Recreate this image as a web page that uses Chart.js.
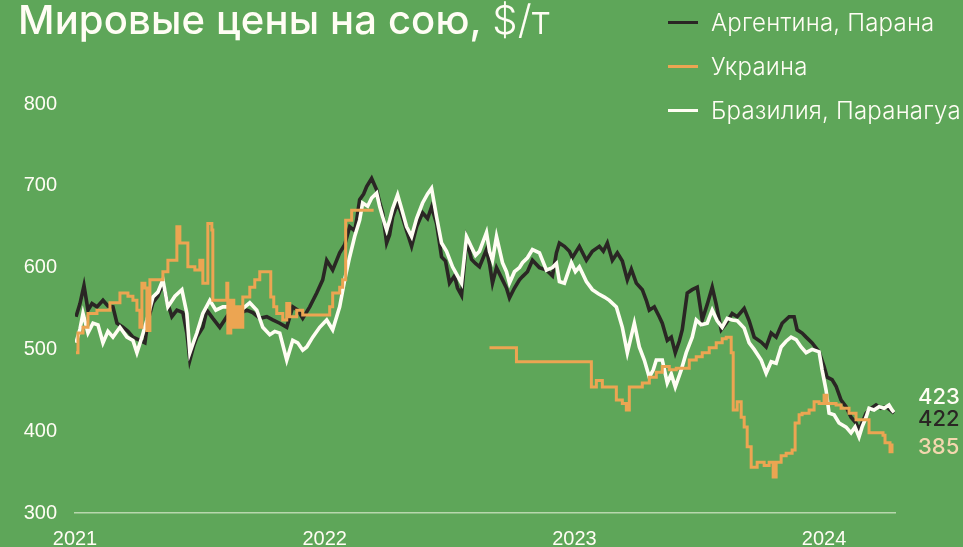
<!DOCTYPE html>
<html>
<head>
<meta charset="utf-8">
<script src="https://cdn.jsdelivr.net/npm/chart.js@4.4.1/dist/chart.umd.min.js"></script>
<style>
  html, body { margin: 0; padding: 0; background: #5ea659; }
  .wrap { position: relative; width: 963px; height: 547px; overflow: hidden; }
  .title {
    position: absolute; left: 18px; top: 0px; margin: 0;
    font-family: Inter, "Noto Sans", sans-serif; font-weight: 500; font-size: 40px;
    line-height: 1; color: #fffdf4; white-space: nowrap; letter-spacing: 0.15px;
  }
  .title .unit { font-weight: 300; }
  .legend { position: absolute; left: 668px; top: 0; }
  .legend .row {
    position: absolute; left: 0; height: 24px; display: flex; align-items: center;
    font-family: Inter, "Noto Sans", sans-serif; font-weight: 300; font-size: 24px;
    color: #fffdf4; white-space: nowrap; letter-spacing: 0.2px;
  }
  .legend .swatch { width: 30px; height: 3px; margin-right: 13px; }
</style>
</head>
<body>
<div class="wrap">
  <canvas id="soyChart"></canvas>
  <div class="title">Мировые цены на сою, <span class="unit">$/т</span></div>
  <div class="legend" id="legend"></div>
</div>
<script>
// x values are years since startYear (fractional), y values are $/t
const startYear = 2021;
const yearTicks = [2021, 2022, 2023, 2024];
const priceTicks = [300, 400, 500, 600, 700, 800];
const seriesNames = ["Аргентина, Парана", "Украина", "Бразилия, Паранагуа"];
const endLabels = ["423", "422", "385"];

const argentinaX = [0.004,0.020,0.036,0.052,0.068,0.088,0.112,0.132,0.152,0.168,0.192,0.212,0.232,0.260,0.280,0.292,0.312,0.332,0.352,0.368,0.388,0.408,0.432,0.448,0.460,0.476,0.488,0.512,0.528,0.552,0.580,0.608,0.632,0.660,0.688,0.712,0.740,0.768,0.792,0.820,0.848,0.872,0.892,0.912,0.940,0.968,0.992,1.008,1.032,1.060,1.080,1.100,1.120,1.128,1.140,1.156,1.168,1.188,1.208,1.220,1.232,1.248,1.260,1.272,1.292,1.308,1.328,1.348,1.368,1.392,1.412,1.428,1.448,1.468,1.484,1.500,1.520,1.532,1.548,1.568,1.588,1.604,1.620,1.648,1.660,1.672,1.688,1.712,1.728,1.740,1.760,1.780,1.792,1.812,1.832,1.860,1.888,1.912,1.928,1.940,1.960,1.980,1.992,2.020,2.048,2.072,2.100,2.116,2.132,2.152,2.172,2.192,2.212,2.228,2.248,2.272,2.288,2.300,2.320,2.340,2.352,2.372,2.388,2.404,2.420,2.432,2.452,2.472,2.492,2.512,2.532,2.552,2.568,2.588,2.608,2.632,2.652,2.680,2.700,2.720,2.748,2.768,2.788,2.808,2.832,2.860,2.880,2.892,2.912,2.928,2.952,2.980,3.000,3.012,3.032,3.048,3.068,3.088,3.108,3.128,3.140,3.152,3.168,3.188,3.208,3.228,3.248,3.264,3.280];
const argentinaY = [540,556,578,548,556,552,560,553,552,532,527,522,515,511,508,535,557,565,581,560,540,548,545,520,487,505,515,527,548,538,527,540,530,544,548,545,538,540,536,532,527,552,548,538,552,569,585,609,597,618,628,650,645,658,683,690,699,709,695,680,667,630,640,662,679,665,645,626,650,667,660,674,654,613,608,581,590,575,566,634,610,605,601,622,605,581,600,585,575,563,575,585,589,595,609,600,597,590,618,630,626,620,612,626,609,620,626,620,630,609,618,608,585,598,581,573,560,548,552,540,532,511,515,496,510,524,569,573,576,536,555,576,555,524,532,544,540,550,535,515,509,503,520,515,532,540,540,524,520,515,508,497,479,466,463,455,438,430,417,410,401,410,422,428,432,428,430,426,422];

const brazilX = [0.004,0.020,0.032,0.052,0.072,0.092,0.112,0.132,0.152,0.180,0.208,0.232,0.248,0.268,0.288,0.312,0.332,0.352,0.372,0.400,0.428,0.448,0.460,0.476,0.488,0.512,0.540,0.564,0.592,0.620,0.648,0.672,0.700,0.728,0.752,0.780,0.800,0.820,0.848,0.872,0.892,0.912,0.928,0.952,0.980,1.008,1.032,1.060,1.080,1.100,1.120,1.140,1.152,1.172,1.188,1.208,1.220,1.232,1.248,1.260,1.272,1.292,1.308,1.328,1.348,1.368,1.392,1.412,1.428,1.448,1.468,1.488,1.512,1.532,1.548,1.568,1.588,1.604,1.620,1.648,1.660,1.672,1.688,1.712,1.728,1.740,1.760,1.780,1.792,1.812,1.832,1.860,1.888,1.912,1.928,1.940,1.960,1.988,2.004,2.020,2.048,2.072,2.096,2.120,2.140,2.168,2.192,2.212,2.240,2.260,2.280,2.300,2.316,2.328,2.352,2.372,2.388,2.404,2.428,2.448,2.472,2.488,2.508,2.532,2.552,2.572,2.592,2.612,2.632,2.652,2.680,2.700,2.720,2.748,2.768,2.788,2.808,2.828,2.848,2.868,2.888,2.908,2.928,2.952,2.980,2.992,3.008,3.020,3.040,3.060,3.088,3.108,3.124,3.140,3.152,3.168,3.180,3.200,3.220,3.240,3.260,3.272,3.280];
const brazilY = [508,525,544,520,532,530,508,522,515,527,515,511,496,515,536,564,570,585,552,565,573,544,496,510,520,544,560,548,552,552,540,550,557,548,527,518,522,520,487,511,508,499,503,515,527,536,524,552,585,613,638,658,679,675,685,691,675,662,646,658,672,689,672,650,638,660,679,690,697,662,630,620,601,590,581,638,625,615,620,643,620,609,638,606,595,581,595,600,606,612,622,618,597,600,605,583,581,606,595,601,583,573,568,564,560,552,527,496,532,503,487,466,475,487,487,459,470,454,475,496,515,536,530,532,548,535,527,538,536,535,526,508,500,487,471,485,483,503,510,515,512,503,496,500,497,475,450,422,420,410,405,398,405,393,405,417,428,426,430,428,432,426,423];

// Ukraine is a stepped series with a break in quotes (null)
const ukraineX = [0.004,0.012,0.032,0.052,0.088,0.140,0.180,0.212,0.232,0.248,0.260,0.268,0.280,0.288,0.300,0.352,0.372,0.408,0.420,0.452,0.480,0.500,0.512,0.532,0.548,0.552,0.608,0.612,0.624,0.636,0.648,0.660,0.672,0.700,0.720,0.740,0.784,0.796,0.808,0.832,0.848,0.860,0.888,0.912,1.020,1.032,1.060,1.072,1.084,1.108,1.196,1.400,1.660,1.768,2.068,2.088,2.112,2.168,2.192,2.208,2.220,2.272,2.300,2.328,2.352,2.380,2.408,2.460,2.488,2.512,2.540,2.568,2.592,2.608,2.628,2.636,2.652,2.668,2.680,2.692,2.708,2.732,2.760,2.780,2.796,2.808,2.828,2.848,2.872,2.884,2.900,2.912,2.940,2.960,2.980,3.000,3.012,3.048,3.068,3.100,3.128,3.180,3.236,3.244,3.264,3.272];
const ukraineY = [496,520,527,544,548,557,569,565,560,548,527,581,575,523,585,595,609,650,630,601,597,609,581,654,646,560,581,520,560,527,552,527,564,576,585,595,564,552,544,536,556,540,548,542,552,569,576,585,658,670,670,null,502,485,454,462,454,438,434,426,454,459,466,472,479,475,477,487,491,496,502,508,513,515,496,426,436,417,405,381,356,362,358,362,344,362,370,373,377,410,420,422,426,436,434,444,434,432,428,422,414,398,395,386,375,385];

const colArgentina = "#2a2624";
const colUkraine = "#eca552";
const colBrazil = "#fffdf3";
const colEnd = ["#fffdf3", "#2a2624", "#f3d7ae"];

function toPoints(xs, ys) {
  return xs.map((x, i) => ({ x: startYear + x, y: ys[i] }));
}

// legend (html)
const legendEl = document.getElementById("legend");
[[seriesNames[0], colArgentina], [seriesNames[1], colUkraine], [seriesNames[2], colBrazil]].forEach((item, i) => {
  const row = document.createElement("div");
  row.className = "row";
  row.style.top = (10 + i * 44) + "px";
  row.innerHTML = '<span class="swatch" style="background:' + item[1] + '"></span>' + item[0];
  legendEl.appendChild(row);
});

const endLabelPlugin = {
  id: "endLabels",
  afterDatasetsDraw(chart) {
    const ctx = chart.ctx;
    const yScale = chart.scales.y;
    const offsets = [-15, 6, 4];
    const lastVals = [brazilY[brazilY.length - 1], argentinaY[argentinaY.length - 1], ukraineY[ukraineY.length - 1]];
    ctx.save();
    ctx.font = "500 22px Inter, 'Noto Sans', sans-serif";
    ctx.textBaseline = "middle";
    ctx.textAlign = "left";
    endLabels.forEach((txt, i) => {
      ctx.fillStyle = colEnd[i];
      ctx.fillText(txt, chart.chartArea.right + 23, yScale.getPixelForValue(lastVals[i]) + offsets[i]);
    });
    ctx.restore();
  }
};

const ctx = document.getElementById("soyChart").getContext("2d");
const soyChart = new Chart(ctx, {
  type: "line",
  data: {
    datasets: [
      {
        label: seriesNames[1],
        data: toPoints(ukraineX, ukraineY),
        borderColor: colUkraine,
        borderWidth: 3,
        stepped: "before",
        spanGaps: false,
        pointRadius: 0,
        order: 0,
      },
      {
        label: seriesNames[2],
        data: toPoints(brazilX, brazilY),
        borderColor: colBrazil,
        borderWidth: 3.6,
        pointRadius: 0,
        order: 1,
      },
      {
        label: seriesNames[0],
        data: toPoints(argentinaX, argentinaY),
        borderColor: colArgentina,
        borderWidth: 3.6,
        pointRadius: 0,
        order: 2,
      },
    ],
  },
  options: {
    responsive: true,
    maintainAspectRatio: false,
    animation: false,
    layout: { padding: { top: 104, right: 68, left: 0, bottom: 0 } },
    plugins: { legend: { display: false }, tooltip: { enabled: false } },
    scales: {
      x: {
        type: "linear",
        min: 2021,
        max: 2024.284,
        afterBuildTicks: s => { s.ticks = yearTicks.map(v => ({ value: v })); },
        afterFit: s => { s.height = 34; },
        grid: { display: false, drawTicks: false },
        border: { display: true, color: "#b8d7ae", width: 1.5 },
        ticks: {
          padding: 14,
          color: "#fffdf4",
          font: { family: "'Liberation Sans', Arial, sans-serif", size: 20 },
          callback: v => String(v),
          maxRotation: 0,
        },
      },
      y: {
        min: 300,
        max: 800,
        afterBuildTicks: s => { s.ticks = priceTicks.map(v => ({ value: v })); },
        afterFit: s => { s.width = 75; },
        grid: { display: false, drawTicks: false },
        border: { display: false },
        ticks: {
          padding: 18,
          color: "#fffdf4",
          font: { family: "'Liberation Sans', Arial, sans-serif", size: 20 },
          callback: v => String(v),
        },
      },
    },
  },
  plugins: [endLabelPlugin],
});
</script>
</body>
</html>
